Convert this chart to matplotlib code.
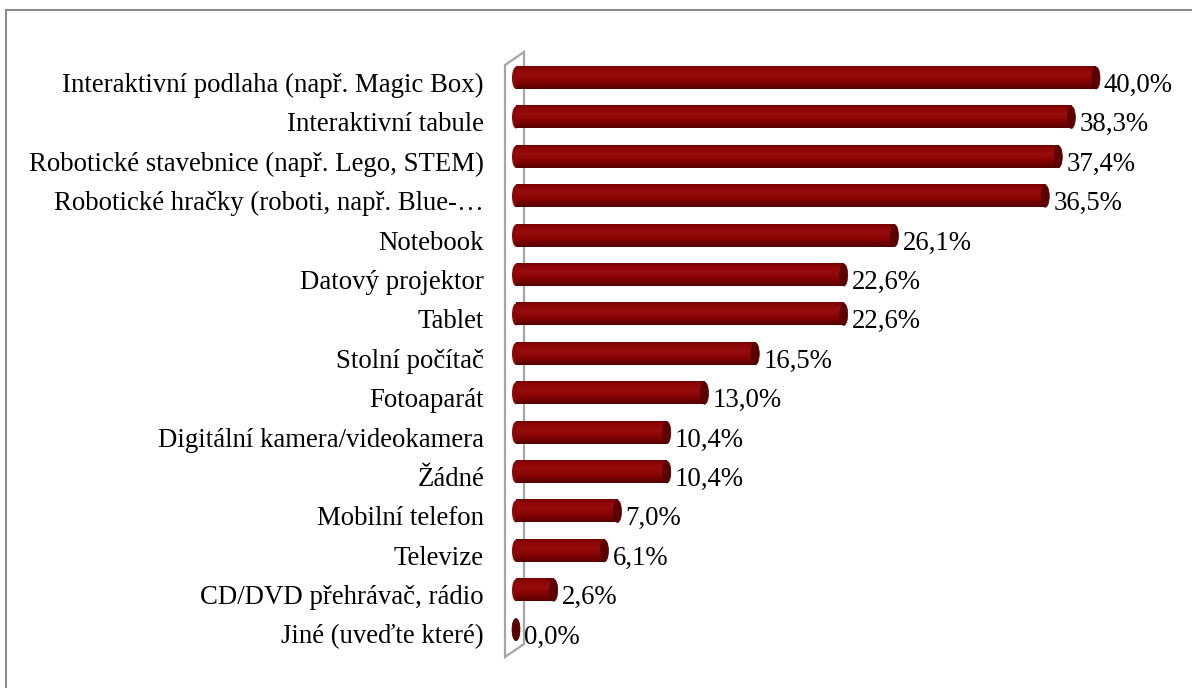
import numpy as np
import matplotlib.pyplot as plt
from matplotlib.patches import Ellipse, Polygon
from matplotlib.lines import Line2D

categories = [
    "Interaktivní podlaha (např. Magic Box)",
    "Interaktivní tabule",
    "Robotické stavebnice (např. Lego, STEM)",
    "Robotické hračky (roboti, např. Blue-…",
    "Notebook",
    "Datový projektor",
    "Tablet",
    "Stolní počítač",
    "Fotoaparát",
    "Digitální kamera/videokamera",
    "Žádné",
    "Mobilní telefon",
    "Televize",
    "CD/DVD přehrávač, rádio",
    "Jiné (uveďte které)",
]
values = [40.0, 38.3, 37.4, 36.5, 26.1, 22.6, 22.6, 16.5, 13.0, 10.4, 10.4, 7.0, 6.1, 2.6, 0.0]

plt.rcParams['font.family'] = ['Liberation Serif', 'DejaVu Serif']

W, H = 1192, 688
fig = plt.figure(figsize=(W / 100, H / 100), dpi=100)

# axes placed in pixel terms: zero line at x=516, rows 39.4 px apart from y=78
px_per_pct = 14.5
row_px = 39.4
row0 = 78
ax_left, ax_right = 505, 1140
ax_top, ax_bot = 52, 657
ax = fig.add_axes([ax_left / W, 1 - ax_bot / H, (ax_right - ax_left) / W, (ax_bot - ax_top) / H])
x0 = -(516 - ax_left) / px_per_pct
x1 = (ax_right - 516) / px_per_pct
ax.axis('off')

# cylinder shading: vertical gradient from lighter red to dark maroon
grad_cols = np.array([
    [0.47, 0.00, 0.00],
    [0.57, 0.03, 0.03],
    [0.59, 0.05, 0.05],
    [0.55, 0.02, 0.02],
    [0.46, 0.00, 0.00],
    [0.33, 0.00, 0.00],
])
t = np.linspace(0, 1, 60)
grad = np.stack([np.interp(t, np.linspace(0, 1, len(grad_cols)), grad_cols[:, c]) for c in range(3)], axis=1)
grad_img = grad[:, None, :]

bar_h = 0.56
cap_w = 8 / px_per_pct
fs = 19.3
base_off = 14 / row_px

for i, (lab, v) in enumerate(zip(categories, values)):
    # back rounded end
    ax.add_patch(Ellipse((0, i), cap_w, bar_h, facecolor=(0.55, 0.03, 0.03), edgecolor='none', zorder=2))
    if v > 0:
        ax.imshow(grad_img, extent=(0, v, i + bar_h / 2, i - bar_h / 2), aspect='auto',
                  interpolation='bilinear', zorder=3)
    # front cap
    ax.add_patch(Ellipse((v, i), cap_w, bar_h, facecolor=(0.36, 0.0, 0.0),
                         edgecolor=(0.30, 0.0, 0.0), lw=0.5, zorder=4))
    ax.text(v + 0.55, i + base_off, f"{v:.1f}%".replace('.', ','), va='baseline', ha='left',
            fontsize=fs, zorder=5)
    ax.text(x0 - 21 / px_per_pct, i + base_off, lab, va='baseline', ha='right', fontsize=fs, clip_on=False)

yb = (ax_bot - row0) / row_px
yt = (ax_top - row0) / row_px
ax.set_xlim(x0, x1)
ax.set_ylim(yb, yt)

# side wall drawn as a slanted outline
wall_dx = 19 / px_per_pct
wall_dy = 13 / row_px
wall = Polygon([(x0, yt + wall_dy), (x0 + wall_dx, yt), (x0 + wall_dx, yb - wall_dy), (x0, yb)],
               closed=True, fill=False, edgecolor='#a6a6a6', lw=1.6, zorder=1, clip_on=False)
ax.add_patch(wall)

# figure frame: top and left edges
fig.add_artist(Line2D([6 / W, 6 / W], [0, 1 - 10 / H], color='#8c8c8c', lw=1.5))
fig.add_artist(Line2D([6 / W, 1], [1 - 10 / H, 1 - 10 / H], color='#8c8c8c', lw=1.5))

fig.savefig('out.png', dpi=100)
